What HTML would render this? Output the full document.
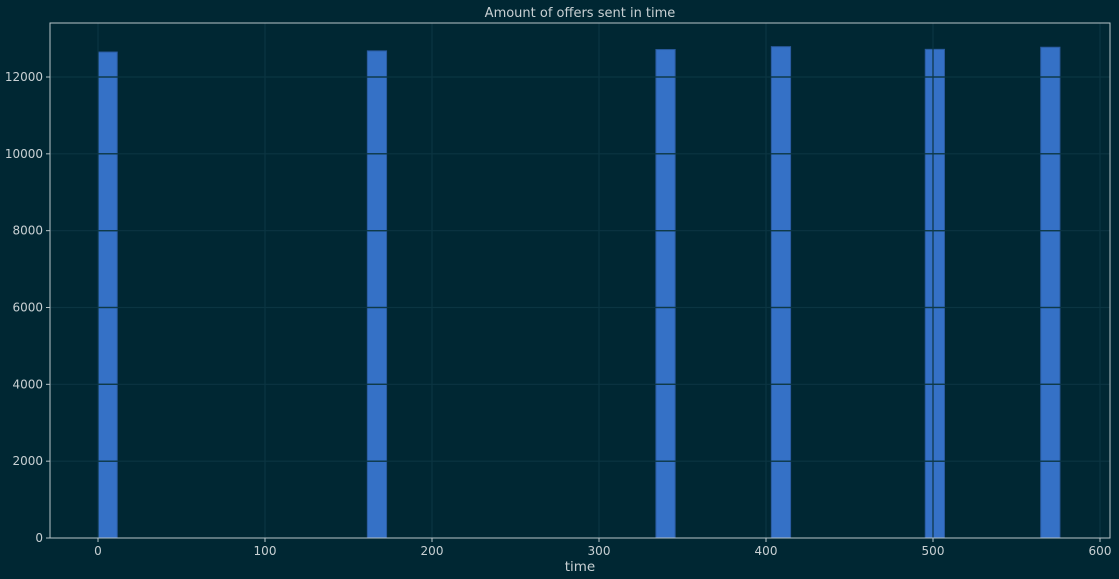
<!DOCTYPE html>
<html><head><meta charset="utf-8"><style>
body{margin:0;background:#002733;}
svg{display:block;font-family:"DejaVu Sans","Liberation Sans",sans-serif;}
</style></head><body>
<svg id="c" width="1119" height="579">
<rect width="1119" height="579" fill="#002733"/>
</svg>
<script>
const binStarts=[0,161.28,334.08,403.2,495.36,564.48];
const binWidth=11.52;
const counts=[12650,12680,12715,12790,12720,12775];
const xTicks=[0,100,200,300,400,500,600];
const yTicks=[0,2000,4000,6000,8000,10000,12000];
const NS='http://www.w3.org/2000/svg';
const svg=document.getElementById('c');
const L=50,R=1110,T=23,B=538;
const x=v=>98+v*(1100-98)/600;
const y=v=>B-v*(B-77)/12000;
function mk(t,a,p){const e=document.createElementNS(NS,t);for(const k in a)e.setAttribute(k,a[k]);(p||svg).appendChild(e);return e;}
const bars=mk('g',{});


binStarts.forEach((s,i)=>{
  const r=mk('rect',{x:x(s),y:y(counts[i]),width:x(s+binWidth)-x(s),height:B-y(counts[i]),fill:'#3571c6',stroke:'#2a5a9e','stroke-width':1},bars);
  
  
});
const grid=mk('g',{stroke:'#0b3542','stroke-width':1.2});


xTicks.forEach(v=>{if(x(v)>L&&x(v)<R)mk('line',{x1:x(v),x2:x(v),y1:T,y2:B},grid);});
yTicks.forEach(v=>{if(v>0)mk('line',{x1:L,x2:R,y1:y(v),y2:y(v)},grid);});
const hg=mk('g',{stroke:'#0f3a48','stroke-width':1.3});
yTicks.forEach(v=>{if(v>0)binStarts.forEach(s=>mk('line',{x1:x(s),x2:x(s+binWidth),y1:y(v),y2:y(v)},hg));});
const fr=mk('rect',{x:L,y:T,width:R-L,height:B-T,fill:'none',stroke:'#b9c4c8','stroke-width':1});


xTicks.forEach(v=>{
  mk('line',{x1:x(v),x2:x(v),y1:B,y2:B+4,stroke:'#b9c4c8'});
  const t=mk('text',{x:x(v),y:B+17,'text-anchor':'middle','font-size':12,fill:'#c8d0d3'});t.textContent=v;
  
  
});
yTicks.forEach(v=>{
  mk('line',{x1:L-4,x2:L,y1:y(v),y2:y(v),stroke:'#b9c4c8'});
  const t=mk('text',{x:L-7,y:y(v)+4,'text-anchor':'end','font-size':12,fill:'#c8d0d3'});t.textContent=v;
  
  
});
const tt=mk('text',{x:(L+R)/2,y:17,'text-anchor':'middle','font-size':13,fill:'#c8d0d3'});tt.textContent='Amount of offers sent in time';


const xl=mk('text',{x:(L+R)/2,y:571,'text-anchor':'middle','font-size':13.5,fill:'#c8d0d3'});xl.textContent='time';


</script>
</body></html>
